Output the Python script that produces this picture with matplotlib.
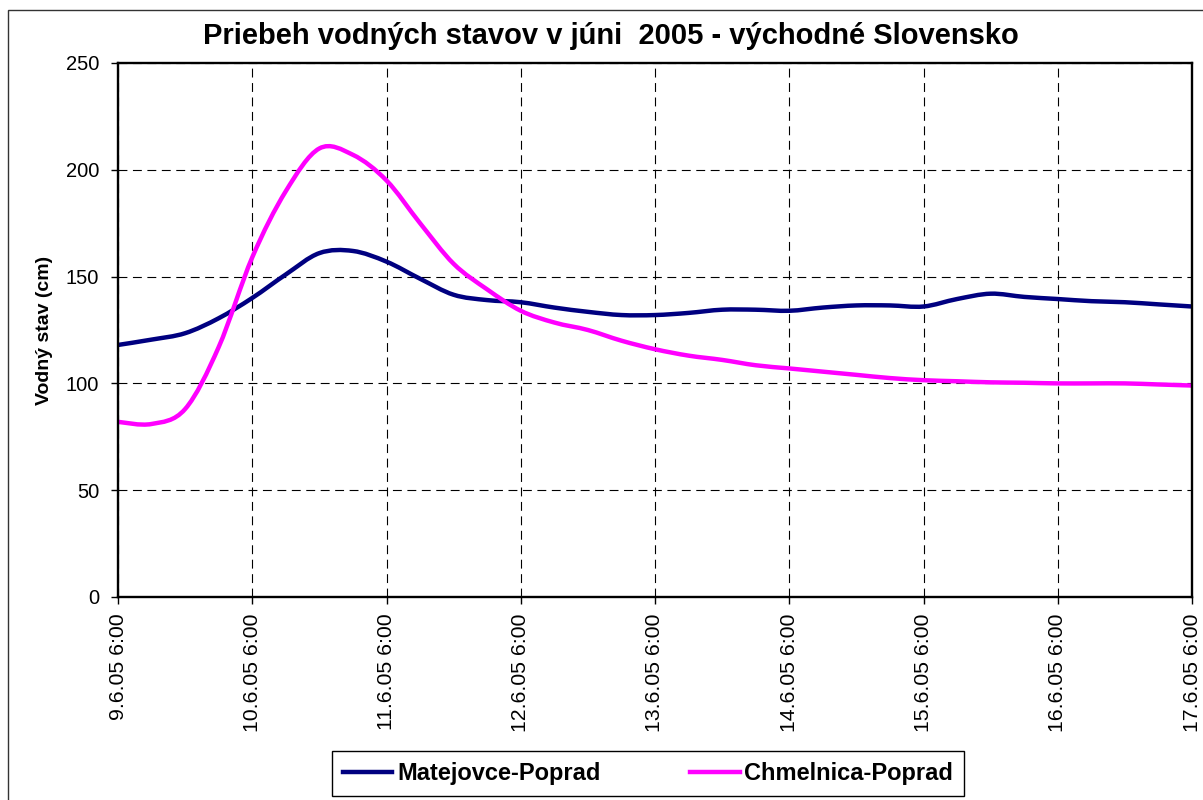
import numpy as np
import pandas as pd
import matplotlib
matplotlib.use("Agg")
import matplotlib.pyplot as plt
import matplotlib.dates as mdates
from matplotlib.patches import Rectangle, PathPatch
from matplotlib.path import Path
from matplotlib.lines import Line2D

plt.rcParams['font.family'] = ['Liberation Sans', 'DejaVu Sans']

# measurements every 6 hours, 9.6.2005 6:00 .. 17.6.2005 6:00
times = pd.date_range("2005-06-09 06:00", "2005-06-17 06:00", freq="6h")

matejovce = [118, 120.5, 123.5, 130.5, 140, 151, 161, 162, 157,
             149, 141.5, 139, 138, 135.5, 133.5, 132, 132,
             133, 134.5, 134.5, 134, 135.5, 136.5, 136.5, 136,
             139.5, 142, 140.5, 139.5, 138.5, 138, 137, 136]
chmelnica = [82, 81, 88, 117, 159, 190, 210, 207, 195,
             175, 156, 144, 134, 128.5, 125, 120, 116,
             113, 111, 108.5, 107, 105.5, 104, 102.5, 101.5,
             101, 100.5, 100.3, 100, 100, 100, 99.5, 99]

series = [("Matejovce-Poprad", matejovce, "#000080"),
          ("Chmelnica-Poprad", chmelnica, "#FF00FF")]


def smooth_path(xs, ys):
    # Excel-like smoothed line: cubic bezier through the points
    P = np.column_stack([xs, ys])
    n = len(P)
    verts = [P[0]]
    codes = [Path.MOVETO]
    for i in range(n - 1):
        p0 = P[i - 1] if i > 0 else P[i]
        p3 = P[i + 2] if i + 2 < n else P[i + 1]
        verts += [P[i] + (P[i + 1] - p0) / 6, P[i + 1] - (p3 - P[i]) / 6, P[i + 1]]
        codes += [Path.CURVE4] * 3
    return Path(verts, codes)


fig = plt.figure(figsize=(12.03, 8), dpi=100)
ax = fig.add_axes([118/1203, 1-597/800, (1192-118)/1203, (597-63)/800])
ax.xaxis_date()

xnum = mdates.date2num(times.to_pydatetime())
handles = []
for name, vals, col in series:
    ax.add_patch(PathPatch(smooth_path(xnum, vals), fill=False, edgecolor=col,
                           lw=3.2, capstyle="round", joinstyle="round", zorder=3))
    handles.append(Line2D([], [], color=col, lw=3.2, label=name))

ax.set_xlim(xnum[0], xnum[-1])
ax.set_ylim(0, 250)
ax.set_yticks([0, 50, 100, 150, 200, 250])
ax.xaxis.set_major_locator(mdates.HourLocator(byhour=[6]))


def fmt(x, pos):
    d = mdates.num2date(x)
    return f"{d.day}.{d.month}.{d.strftime('%y')} {d.hour}:{d.strftime('%M')}"


ax.xaxis.set_major_formatter(plt.FuncFormatter(fmt))
ax.tick_params(axis="x", labelsize=15.3, length=5, width=1, pad=7)
ax.tick_params(axis="y", labelsize=14.5, length=5, width=1, pad=8.5)
for lab in ax.get_xticklabels():
    lab.set_rotation(90)

ax.grid(True, color="black", linestyle=(0, (8, 5)), linewidth=0.8)
ax.set_axisbelow(True)
for s in ax.spines.values():
    s.set_linewidth(1.7)
    s.set_zorder(4)

ax.set_ylabel("Vodný stav (cm)", fontsize=14, fontweight="bold")
ax.yaxis.set_label_coords((53-118)/1074, 0.5)
fig.text(611/1203, 1-36/800, "Priebeh vodných stavov v júni  2005 - východné Slovensko",
         ha="center", va="center", fontsize=21, fontweight="bold")

leg = fig.legend(handles=handles, loc="center", bbox_to_anchor=(648/1203, 1-773.5/800),
                 ncol=2, prop={"weight": "bold", "size": 17},
                 fancybox=False, edgecolor="black", framealpha=1,
                 handlelength=2.1, handletextpad=0.2, columnspacing=3.8,
                 borderpad=0.45, borderaxespad=0)
leg.get_frame().set_linewidth(1)

fig.patches.append(Rectangle((7.5/1203, -0.1), 1.2, 1-10/800+0.1,
                             transform=fig.transFigure, fill=False,
                             edgecolor="#333333", lw=1))

fig.savefig("out.png", dpi=100)
